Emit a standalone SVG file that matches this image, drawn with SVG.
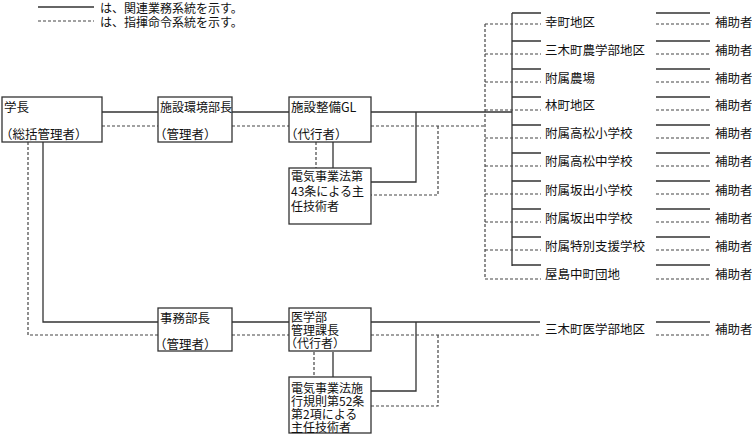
<svg xmlns="http://www.w3.org/2000/svg" width="752" height="435" viewBox="0 0 752 435">
<style>
text{font-family:"Noto Sans CJK JP","Noto Sans",sans-serif;font-size:12.5px;fill:#111;dominant-baseline:central}
.sm{font-size:12px}
.s{stroke:#333;stroke-width:1.3;fill:none}
.d{stroke:#444;stroke-width:1.2;fill:none;stroke-dasharray:3,2}
.b{fill:#fff;stroke:#333;stroke-width:1.3}
</style>
<rect width="752" height="435" fill="#fff"/>
<g id="legend">
<line class="s" x1="38" y1="7" x2="94" y2="7"/>
<line class="d" x1="38" y1="21" x2="94" y2="21"/>
<text x="100" y="7" class="sm">は、関連業務系統を示す。</text>
<text x="100" y="21" class="sm">は、指揮命令系統を示す。</text>
</g>
<g id="connectors">
<path class="s" d="M102 112H158M232 112H289M371 112H512M416 112V182H371M512 13V266"/>
<path class="d" d="M102 126H158M232 126H289M371 126H485M438 126V195H371M485 24V279"/>
<path class="s" d="M333 142V168M333 352V377"/>
<path class="d" d="M316 142V168M314 352V377"/>
<path class="s" d="M43 142V322H158M232 322H289M371 322H540M416 322V391H371"/>
<path class="d" d="M28 142V335H158M232 335H289M371 335H540M438 335V406H371"/>
<path class="s" d="M512 13H541M512 41H541M512 69H541M512 97H541M512 125H541M512 153H541M512 181H541M512 209H541M512 237H541M512 265H541"/>
<path class="d" d="M485 24H541M485 54H541M485 82H541M485 110H541M485 138H541M485 166H541M485 194H541M485 222H541M485 250H541M485 279H541"/>
<path class="s" d="M656 13H710M656 41H710M656 69H710M656 97H710M656 125H710M656 153H710M656 181H710M656 209H710M656 237H710M656 265H710M656 322H710"/>
<path class="d" d="M656 24H710M656 54H710M656 82H710M656 110H710M656 138H710M656 166H710M656 194H710M656 222H710M656 250H710M656 279H710M656 335H710"/>
</g>
<g id="n-gakucho"><rect class="b" x="2" y="97" width="100" height="45"/><text x="4" y="106">学長</text><text x="0" y="133">（総括管理者）</text></g>
<g id="n-shisetsu"><rect class="b" x="158" y="97" width="74" height="45"/><text x="160" y="106" class="sm">施設環境部長</text><text x="154" y="133">（管理者）</text></g>
<g id="n-gl"><rect class="b" x="289" y="97" width="82" height="45"/><text x="291" y="106">施設整備GL</text><text x="285" y="133">（代行者）</text></g>
<g id="n-denki1"><rect class="b" x="289" y="168" width="82" height="56"/><text x="291" y="175" class="sm">電気事業法第</text><text x="291" y="190" class="sm">43条による主</text><text x="291" y="205" class="sm">任技術者</text></g>
<g id="n-jimu"><rect class="b" x="158" y="308" width="74" height="43"/><text x="160" y="317">事務部長</text><text x="154" y="343">（管理者）</text></g>
<g id="n-igaku"><rect class="b" x="289" y="308" width="82" height="43"/><text x="291" y="316" class="sm">医学部</text><text x="291" y="329" class="sm">管理課長</text><text x="285" y="342" class="sm">（代行者）</text></g>
<g id="n-denki2"><rect class="b" x="289" y="377" width="82" height="56"/><text x="291" y="387" class="sm">電気事業法施</text><text x="291" y="400" class="sm">行規則第52条</text><text x="291" y="413" class="sm">第2項による</text><text x="291" y="426" class="sm">主任技術者</text></g>
<g id="sites">
<text x="545" y="21">幸町地区</text>
<text x="545" y="49">三木町農学部地区</text>
<text x="545" y="77">附属農場</text>
<text x="545" y="104">林町地区</text>
<text x="545" y="132">附属高松小学校</text>
<text x="545" y="160">附属高松中学校</text>
<text x="545" y="189">附属坂出小学校</text>
<text x="545" y="217">附属坂出中学校</text>
<text x="545" y="245">附属特別支援学校</text>
<text x="545" y="273">屋島中町団地</text>
<text x="545" y="328">三木町医学部地区</text>
</g>
<g id="helpers">
<text x="715" y="21">補助者</text><text x="715" y="49">補助者</text><text x="715" y="77">補助者</text><text x="715" y="104">補助者</text><text x="715" y="132">補助者</text><text x="715" y="160">補助者</text><text x="715" y="189">補助者</text><text x="715" y="217">補助者</text><text x="715" y="245">補助者</text><text x="715" y="273">補助者</text><text x="715" y="328">補助者</text>
</g>
</svg>
